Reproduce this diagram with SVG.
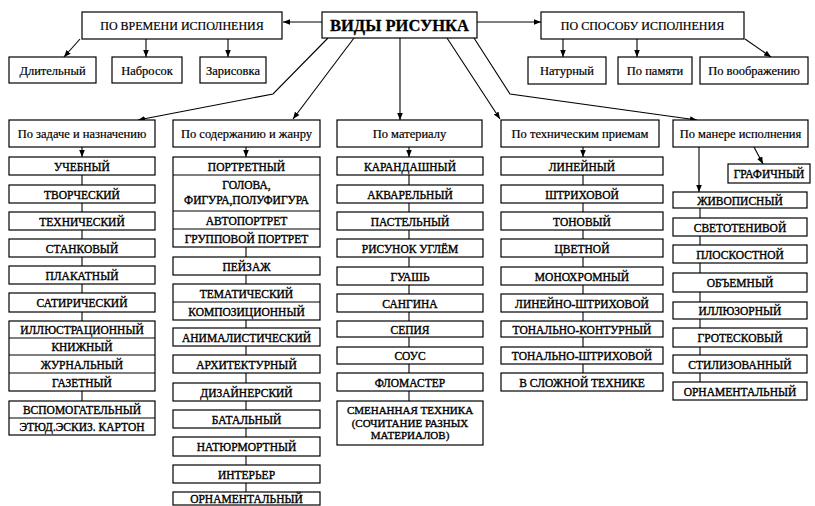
<svg xmlns="http://www.w3.org/2000/svg" width="815" height="506" viewBox="0 0 815 506">
<style>
rect{fill:#fff;stroke:#000;stroke-width:1.2}
.d{stroke:#000;stroke-width:1.1}
.c path,.c line{fill:none;stroke:#000;stroke-width:1.1}
text{font-family:"Liberation Serif","Times New Roman",serif;fill:#000;text-anchor:middle;stroke:#000;stroke-width:0.2}
.h{font-size:12.5px}
.t{font-size:12px}
.i{font-size:11.5px;stroke-width:0.35}
.s{font-size:11px;stroke-width:0.35}
.r{font-size:16.5px;font-weight:bold;stroke-width:0.3}
</style>
<defs>
<marker id="a" viewBox="0 0 10 10" refX="10" refY="5" markerWidth="7" markerHeight="7" orient="auto" markerUnits="userSpaceOnUse">
<path d="M0,1 L10,5 L0,9 z" fill="#000"/>
</marker>
</defs>
<rect x="0" y="0" width="815" height="506" style="fill:#fff;stroke:none"/>
<g class="c" id="connectors">
<path d="M322,22 L283,22" marker-end="url(#a)"/>
<path d="M477,22 L541,22" marker-end="url(#a)"/>
<path d="M80,39 L64,57" marker-end="url(#a)"/>
<path d="M146,39 V57" marker-end="url(#a)"/>
<path d="M228,39 V57" marker-end="url(#a)"/>
<path d="M563,39 V57" marker-end="url(#a)"/>
<path d="M637,39 V57" marker-end="url(#a)"/>
<path d="M745,39 L771,57" marker-end="url(#a)"/>
<path d="M328,38 L273,94 L138,120" marker-end="url(#a)"/>
<path d="M354,38 L293,119" marker-end="url(#a)"/>
<path d="M400,38 V120" marker-end="url(#a)"/>
<path d="M447,38 L500,119" marker-end="url(#a)"/>
<path d="M474,38 L510,94 L697,120" marker-end="url(#a)"/>
<path d="M82,147 V157" marker-end="url(#a)"/>
<path d="M246,147 V157" marker-end="url(#a)"/>
<path d="M409,147 V157" marker-end="url(#a)"/>
<path d="M583,147 V157" marker-end="url(#a)"/>
<path d="M699,147 V192" marker-end="url(#a)"/>
<path d="M754,147 L763,164" marker-end="url(#a)"/>
<line x1="82" y1="175" x2="82" y2="401"/>
<line x1="246" y1="175" x2="246" y2="492"/>
<line x1="409" y1="175" x2="409" y2="401"/>
<line x1="583" y1="175" x2="583" y2="373"/>
<line x1="700" y1="208" x2="700" y2="382"/>
</g>
<g id="root"><rect x="322" y="12" width="155" height="26"/><text class="r" x="399.5" y="31">ВИДЫ РИСУНКА</text></g>
<g id="time"><rect x="82" y="12" width="200" height="27"/><text class="t" x="182" y="30">ПО ВРЕМЕНИ ИСПОЛНЕНИЯ</text></g>
<g id="t1"><rect x="9" y="57" width="87" height="26"/><text class="h" x="52.5" y="74.5">Длительный</text></g>
<g id="t2"><rect x="112" y="57" width="70" height="26"/><text class="h" x="147" y="74.5">Набросок</text></g>
<g id="t3"><rect x="200" y="57" width="66" height="26"/><text class="h" x="233" y="74.5">Зарисовка</text></g>
<g id="method"><rect x="541" y="12" width="203" height="27"/><text class="t" x="642.5" y="30">ПО СПОСОБУ ИСПОЛНЕНИЯ</text></g>
<g id="m1"><rect x="528" y="57" width="78" height="27"/><text class="h" x="567" y="75">Натурный</text></g>
<g id="m2"><rect x="618" y="57" width="74" height="27"/><text class="h" x="655" y="75">По памяти</text></g>
<g id="m3"><rect x="700" y="57" width="108" height="27"/><text class="h" x="754" y="75">По воображению</text></g>
<g id="h1"><rect x="9" y="120" width="146" height="27"/><text class="h" x="82" y="138">По задаче и назначению</text></g>
<g id="h2"><rect x="173" y="120" width="147" height="27"/><text class="h" x="246.5" y="138">По содержанию и жанру</text></g>
<g id="h3"><rect x="337" y="120" width="145" height="27"/><text class="h" x="409.5" y="138">По материалу</text></g>
<g id="h4"><rect x="501" y="120" width="158" height="27"/><text class="h" x="580" y="138">По техническим приемам</text></g>
<g id="h5"><rect x="673" y="120" width="135" height="27"/><text class="h" x="740.5" y="138">По манере исполнения</text></g>

<g id="c1a"><rect x="9" y="157" width="146" height="18"/><text class="i" x="82" y="170.5">УЧЕБНЫЙ</text></g>
<g id="c1b"><rect x="9" y="185" width="146" height="18"/><text class="i" x="82" y="198.5">ТВОРЧЕСКИЙ</text></g>
<g id="c1c"><rect x="9" y="212" width="146" height="18"/><text class="i" x="82" y="225.5">ТЕХНИЧЕСКИЙ</text></g>
<g id="c1d"><rect x="9" y="239" width="146" height="18"/><text class="i" x="82" y="252.5">СТАНКОВЫЙ</text></g>
<g id="c1e"><rect x="9" y="266" width="146" height="18"/><text class="i" x="82" y="279.5">ПЛАКАТНЫЙ</text></g>
<g id="c1f"><rect x="9" y="293" width="146" height="19"/><text class="i" x="82" y="307">САТИРИЧЕСКИЙ</text></g>
<g id="c1g"><rect x="9" y="321" width="146" height="70"/>
<line class="d" x1="9" y1="338" x2="155" y2="338"/><line class="d" x1="9" y1="355" x2="155" y2="355"/><line class="d" x1="9" y1="373" x2="155" y2="373"/>
<text class="i" x="82" y="334">ИЛЛЮСТРАЦИОННЫЙ</text><text class="i" x="82" y="351">КНИЖНЫЙ</text><text class="i" x="82" y="368.5">ЖУРНАЛЬНЫЙ</text><text class="i" x="82" y="386.5">ГАЗЕТНЫЙ</text></g>
<g id="c1h"><rect x="9" y="401" width="146" height="34"/><line class="d" x1="9" y1="418" x2="155" y2="418"/>
<text class="i" x="82" y="414">ВСПОМОГАТЕЛЬНЫЙ</text><text class="i" x="82" y="431">ЭТЮД.ЭСКИЗ. КАРТОН</text></g>

<g id="c2a"><rect x="173" y="157" width="147" height="90"/>
<line class="d" x1="173" y1="175" x2="320" y2="175"/><line class="d" x1="173" y1="211" x2="320" y2="211"/><line class="d" x1="173" y1="229" x2="320" y2="229"/>
<text class="i" x="246.5" y="170.5">ПОРТРЕТНЫЙ</text><text class="i" x="246.5" y="189">ГОЛОВА,</text><text class="i" x="246.5" y="204">ФИГУРА,ПОЛУФИГУРА</text><text class="i" x="246.5" y="224.5">АВТОПОРТРЕТ</text><text class="i" x="246.5" y="242.5">ГРУППОВОЙ ПОРТРЕТ</text></g>
<g id="c2b"><rect x="173" y="257" width="147" height="18"/><text class="i" x="246.5" y="270.5">ПЕЙЗАЖ</text></g>
<g id="c2c"><rect x="173" y="284" width="147" height="36"/><line class="d" x1="173" y1="302" x2="320" y2="302"/>
<text class="i" x="246.5" y="297.5">ТЕМАТИЧЕСКИЙ</text><text class="i" x="246.5" y="315.5">КОМПОЗИЦИОННЫЙ</text></g>
<g id="c2d"><rect x="173" y="328" width="147" height="18"/><text class="i" x="246.5" y="341.5">АНИМАЛИСТИЧЕСКИЙ</text></g>
<g id="c2e"><rect x="173" y="355" width="147" height="18"/><text class="i" x="246.5" y="368.5">АРХИТЕКТУРНЫЙ</text></g>
<g id="c2f"><rect x="173" y="383" width="147" height="18"/><text class="i" x="246.5" y="396.5">ДИЗАЙНЕРСКИЙ</text></g>
<g id="c2g"><rect x="173" y="410" width="147" height="18"/><text class="i" x="246.5" y="423.5">БАТАЛЬНЫЙ</text></g>
<g id="c2h"><rect x="173" y="437" width="147" height="19"/><text class="i" x="246.5" y="451">НАТЮРМОРТНЫЙ</text></g>
<g id="c2i"><rect x="173" y="465" width="147" height="18"/><text class="i" x="246.5" y="478.5">ИНТЕРЬЕР</text></g>
<g id="c2j"><rect x="173" y="492" width="147" height="13"/><text class="i" x="246.5" y="503">ОРНАМЕНТАЛЬНЫЙ</text></g>

<g id="c3a"><rect x="337" y="157" width="146" height="18"/><text class="i" x="410" y="170.5">КАРАНДАШНЫЙ</text></g>
<g id="c3b"><rect x="337" y="185" width="146" height="18"/><text class="i" x="410" y="198.5">АКВАРЕЛЬНЫЙ</text></g>
<g id="c3c"><rect x="337" y="212" width="146" height="18"/><text class="i" x="410" y="225.5">ПАСТЕЛЬНЫЙ</text></g>
<g id="c3d"><rect x="337" y="239" width="146" height="18"/><text class="i" x="410" y="252.5">РИСУНОК УГЛЁМ</text></g>
<g id="c3e"><rect x="337" y="267" width="146" height="18"/><text class="i" x="410" y="280.5">ГУАШЬ</text></g>
<g id="c3f"><rect x="337" y="294" width="146" height="18"/><text class="i" x="410" y="307.5">САНГИНА</text></g>
<g id="c3g"><rect x="337" y="321" width="146" height="16"/><text class="i" x="410" y="333.5">СЕПИЯ</text></g>
<g id="c3h"><rect x="337" y="347" width="146" height="17"/><text class="i" x="410" y="360">СОУС</text></g>
<g id="c3i"><rect x="337" y="373" width="146" height="18"/><text class="i" x="410" y="386.5">ФЛОМАСТЕР</text></g>
<g id="c3j"><rect x="337" y="401" width="146" height="44"/><text class="s" x="410" y="414">СМЕНАННАЯ ТЕХНИКА</text><text class="s" x="410" y="426.5">(СОЧИТАНИЕ РАЗНЫХ</text><text class="s" x="410" y="439">МАТЕРИАЛОВ)</text></g>

<g id="c4a"><rect x="501" y="157" width="162" height="18"/><text class="i" x="582" y="170.5">ЛИНЕЙНЫЙ</text></g>
<g id="c4b"><rect x="501" y="185" width="162" height="18"/><text class="i" x="582" y="198.5">ШТРИХОВОЙ</text></g>
<g id="c4c"><rect x="501" y="212" width="162" height="18"/><text class="i" x="582" y="225.5">ТОНОВЫЙ</text></g>
<g id="c4d"><rect x="501" y="239" width="162" height="18"/><text class="i" x="582" y="252.5">ЦВЕТНОЙ</text></g>
<g id="c4e"><rect x="501" y="267" width="162" height="18"/><text class="i" x="582" y="280.5">МОНОХРОМНЫЙ</text></g>
<g id="c4f"><rect x="501" y="294" width="162" height="18"/><text class="i" x="582" y="307.5">ЛИНЕЙНО-ШТРИХОВОЙ</text></g>
<g id="c4g"><rect x="501" y="321" width="162" height="16"/><text class="i" x="582" y="333.5">ТОНАЛЬНО-КОНТУРНЫЙ</text></g>
<g id="c4h"><rect x="501" y="347" width="162" height="17"/><text class="i" x="582" y="360">ТОНАЛЬНО-ШТРИХОВОЙ</text></g>
<g id="c4i"><rect x="501" y="373" width="162" height="18"/><text class="i" x="582" y="386.5">В СЛОЖНОЙ ТЕХНИКЕ</text></g>

<g id="c5g"><rect x="728" y="164" width="82" height="19"/><text class="i" x="769" y="178">ГРАФИЧНЫЙ</text></g>
<g id="c5a"><rect x="673" y="192" width="134" height="16"/><text class="i" x="740" y="204.5">ЖИВОПИСНЫЙ</text></g>
<g id="c5b"><rect x="673" y="218" width="134" height="18"/><text class="i" x="740" y="231.5">СВЕТОТЕНИВОЙ</text></g>
<g id="c5c"><rect x="673" y="245" width="134" height="18"/><text class="i" x="740" y="258.5">ПЛОСКОСТНОЙ</text></g>
<g id="c5d"><rect x="673" y="273" width="134" height="19"/><text class="i" x="740" y="287">ОБЪЕМНЫЙ</text></g>
<g id="c5e"><rect x="673" y="302" width="134" height="17"/><text class="i" x="740" y="315">ИЛЛЮЗОРНЫЙ</text></g>
<g id="c5f"><rect x="673" y="328" width="134" height="19"/><text class="i" x="740" y="342">ГРОТЕСКОВЫЙ</text></g>
<g id="c5h"><rect x="673" y="355" width="134" height="18"/><text class="i" x="740" y="368.5">СТИЛИЗОВАННЫЙ</text></g>
<g id="c5i"><rect x="673" y="382" width="134" height="18"/><text class="i" x="740" y="395.5">ОРНАМЕНТАЛЬНЫЙ</text></g>
</svg>
